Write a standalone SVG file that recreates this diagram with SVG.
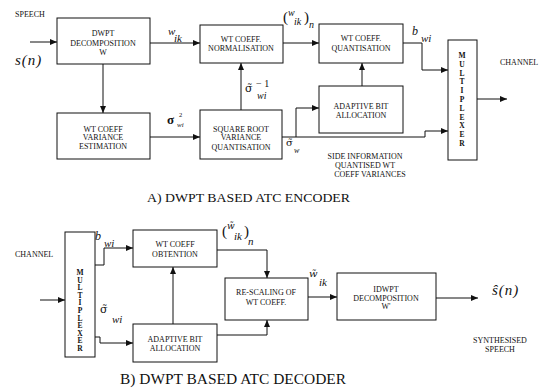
<svg xmlns="http://www.w3.org/2000/svg" width="542" height="390" viewBox="0 0 542 390">
<style>
.box{fill:#fff;stroke:#111;stroke-width:1}
.t{font-family:"Liberation Serif",serif;font-size:8px;fill:#111;text-anchor:middle}
.tl{font-family:"Liberation Serif",serif;font-size:8px;fill:#111}
.m{font-family:"Liberation Serif",serif;font-style:italic;fill:#111}
.g{font-family:"Liberation Serif",serif;fill:#111}
.d{font-family:"DejaVu Serif",serif}
.i{font-style:italic}
.ml{font-family:"Liberation Serif",serif;font-size:7.5px;font-weight:bold;fill:#111;text-anchor:middle}
.cap{font-family:"Liberation Serif",serif;fill:#111}
.c{fill:none;stroke:#111;stroke-width:1}
</style>
<defs>
<marker id="ah" markerUnits="userSpaceOnUse" markerWidth="8" markerHeight="6" refX="7" refY="3" orient="auto">
<path d="M0,0 L7,3 L0,6 z" fill="#111"/>
</marker>
</defs>
<rect width="542" height="390" fill="#fff"/>

<g id="connectors">
<path class="c" marker-end="url(#ah)" d="M30,42 H57"/>
<path class="c" marker-end="url(#ah)" d="M150,43 H200"/>
<path class="c" marker-end="url(#ah)" d="M283,43 H319"/>
<path class="c" marker-end="url(#ah)" d="M403,43 H422 V70 H448"/>
<path class="c" marker-end="url(#ah)" d="M103,64 V113"/>
<path class="c" marker-end="url(#ah)" d="M150,137 H200"/>
<path class="c" marker-end="url(#ah)" d="M241,110 V63"/>
<path class="c" marker-end="url(#ah)" d="M282,137 H296 V108 H319"/>
<path class="c" marker-end="url(#ah)" d="M296,137 H425 V131 H448"/>
<path class="c" marker-end="url(#ah)" d="M362,86 V63"/>
<path class="c" marker-end="url(#ah)" d="M477,99 H507"/>

<path class="c" marker-end="url(#ah)" d="M40,300 H65"/>
<path class="c" marker-end="url(#ah)" d="M95,265 H104 V248 H133"/>
<path class="c" marker-end="url(#ah)" d="M95,337 H100 V343 H133"/>
<path class="c" marker-end="url(#ah)" d="M173,324 V267"/>
<path class="c" marker-end="url(#ah)" d="M217,250 H267 V278"/>
<path class="c" marker-end="url(#ah)" d="M217,335 H267 V320"/>
<path class="c" marker-end="url(#ah)" d="M308,297 H337"/>
<path class="c" marker-end="url(#ah)" d="M436,298 H478"/>
</g>

<g id="enc-dwpt">
<rect class="box" x="57" y="18" width="93" height="46"/>
<text class="t" x="103" y="36">DWPT</text>
<text class="t" x="103" y="46">DECOMPOSITION</text>
<text class="t" x="103" y="55">W</text>
</g>
<g id="enc-norm">
<rect class="box" x="200" y="25" width="83" height="38"/>
<text class="t" x="241" y="41.5">WT COEFF.</text>
<text class="t" x="241" y="50.5">NORMALISATION</text>
</g>
<g id="enc-quant">
<rect class="box" x="319" y="24" width="84" height="39"/>
<text class="t" x="361" y="41">WT COEFF.</text>
<text class="t" x="361" y="51">QUANTISATION</text>
</g>
<g id="enc-varest">
<rect class="box" x="57" y="113" width="93" height="46"/>
<text class="t" x="103" y="131.5">WT COEFF</text>
<text class="t" x="103" y="140">VARIANCE</text>
<text class="t" x="103" y="149">ESTIMATION</text>
</g>
<g id="enc-sqrt">
<rect class="box" x="200" y="110" width="82" height="49"/>
<text class="t" x="241" y="131.5">SQUARE ROOT</text>
<text class="t" x="241" y="140">VARIANCE</text>
<text class="t" x="241" y="149.5">QUANTISATION</text>
</g>
<g id="enc-adapt">
<rect class="box" x="319" y="86" width="84" height="47"/>
<text class="t" x="361" y="109">ADAPTIVE BIT</text>
<text class="t" x="361" y="118">ALLOCATION</text>
</g>
<g id="enc-mux">
<rect class="box" x="448" y="40" width="29" height="120"/>
<text class="ml"><tspan x="462" y="58">M</tspan><tspan x="462" y="66.8">U</tspan><tspan x="462" y="75.6">L</tspan><tspan x="462" y="84.4">T</tspan><tspan x="462" y="93.2">I</tspan><tspan x="462" y="102">P</tspan><tspan x="462" y="110.8">L</tspan><tspan x="462" y="119.6">E</tspan><tspan x="462" y="128.4">X</tspan><tspan x="462" y="137.2">E</tspan><tspan x="462" y="146">R</tspan></text>
</g>

<g id="enc-labels">
<text class="tl" x="15" y="17">SPEECH</text>
<text class="m" x="15" y="65" font-size="15" letter-spacing="1">s(n)</text>
<text class="m" font-size="11"><tspan x="168" y="35">w</tspan><tspan x="174" y="42">ik</tspan></text>
<text class="g" font-size="10"><tspan x="283" y="22" font-size="15">(</tspan><tspan class="i" x="288" y="16">w</tspan><tspan class="i" x="294" y="25">ik</tspan><tspan x="304" y="22" font-size="15">)</tspan><tspan class="i" x="309" y="28">n</tspan></text>
<text class="m" font-size="12"><tspan x="412" y="35">b</tspan><tspan x="421" y="42" font-size="11">wi</tspan></text>
<text class="g" font-size="10"><tspan class="d" x="245" y="92" font-size="11">σ̃</tspan><tspan x="256" y="87">− 1</tspan><tspan class="i" x="257" y="99">wi</tspan></text>
<text class="g"><tspan x="167" y="124" font-size="13" font-weight="bold">σ</tspan><tspan x="179" y="117" font-size="6.5">2</tspan><tspan class="i" x="177" y="127" font-size="7">wi</tspan></text>
<text class="g" font-size="8"><tspan class="d" x="286" y="146" font-size="10">σ̃</tspan><tspan class="i" x="294" y="153">w</tspan></text>
<text class="t" x="365" y="159">SIDE INFORMATION</text>
<text class="t" x="365" y="168">QUANTISED WT</text>
<text class="t" x="370" y="177">COEFF VARIANCES</text>
<text class="tl" x="500" y="65">CHANNEL</text>
<text class="cap" x="147" y="202" font-size="13.5" textLength="203" lengthAdjust="spacingAndGlyphs">A) DWPT BASED ATC ENCODER</text>
</g>

<g id="dec-mux">
<rect class="box" x="65" y="232" width="30" height="125"/>
<text class="ml"><tspan x="80" y="275">M</tspan><tspan x="80" y="282.6">U</tspan><tspan x="80" y="290.2">L</tspan><tspan x="80" y="297.8">T</tspan><tspan x="80" y="305.4">I</tspan><tspan x="80" y="313">P</tspan><tspan x="80" y="320.6">L</tspan><tspan x="80" y="328.2">E</tspan><tspan x="80" y="335.8">X</tspan><tspan x="80" y="343.4">E</tspan><tspan x="80" y="351">R</tspan></text>
</g>
<g id="dec-obt">
<rect class="box" x="133" y="230" width="84" height="37"/>
<text class="t" x="175" y="247">WT COEFF</text>
<text class="t" x="175" y="257">OBTENTION</text>
</g>
<g id="dec-adapt">
<rect class="box" x="133" y="324" width="84" height="38"/>
<text class="t" x="175" y="342">ADAPTIVE BIT</text>
<text class="t" x="175" y="351">ALLOCATION</text>
</g>
<g id="dec-rescale">
<rect class="box" x="225" y="278" width="83" height="42"/>
<text class="t" x="266" y="295">RE-SCALING OF</text>
<text class="t" x="266" y="305">WT COEFF.</text>
</g>
<g id="dec-idwpt">
<rect class="box" x="337" y="273" width="99" height="47"/>
<text class="t" x="386" y="292">IDWPT</text>
<text class="t" x="386" y="300.5">DECOMPOSITION</text>
<text class="t" x="386" y="309">W'</text>
</g>

<g id="dec-labels">
<text class="tl" x="15" y="257">CHANNEL</text>
<text class="m" font-size="12"><tspan x="95" y="240">b</tspan><tspan x="104" y="247" font-size="11">wi</tspan></text>
<text class="g" font-size="11"><tspan class="d" x="100" y="313" font-size="11">σ̃</tspan><tspan class="i" x="112" y="323">wi</tspan></text>
<text class="g" font-size="11"><tspan x="222" y="236" font-size="15">(</tspan><tspan class="d i" x="227" y="229" font-size="9">w̃</tspan><tspan class="i" x="234" y="240">ik</tspan><tspan x="244" y="236" font-size="15">)</tspan><tspan class="i" x="248" y="245">n</tspan></text>
<text class="g" font-size="11"><tspan class="d i" x="309" y="277" font-size="10">w̃</tspan><tspan class="i" x="319" y="286">ik</tspan></text>
<text class="m" x="492" y="295" font-size="15" letter-spacing="1">ŝ(n)</text>
<text class="t" x="500" y="343">SYNTHESISED</text>
<text class="t" x="500" y="352">SPEECH</text>
<text class="cap" x="120" y="384" font-size="14.5" textLength="226" lengthAdjust="spacingAndGlyphs">B) DWPT BASED ATC DECODER</text>
</g>
</svg>
